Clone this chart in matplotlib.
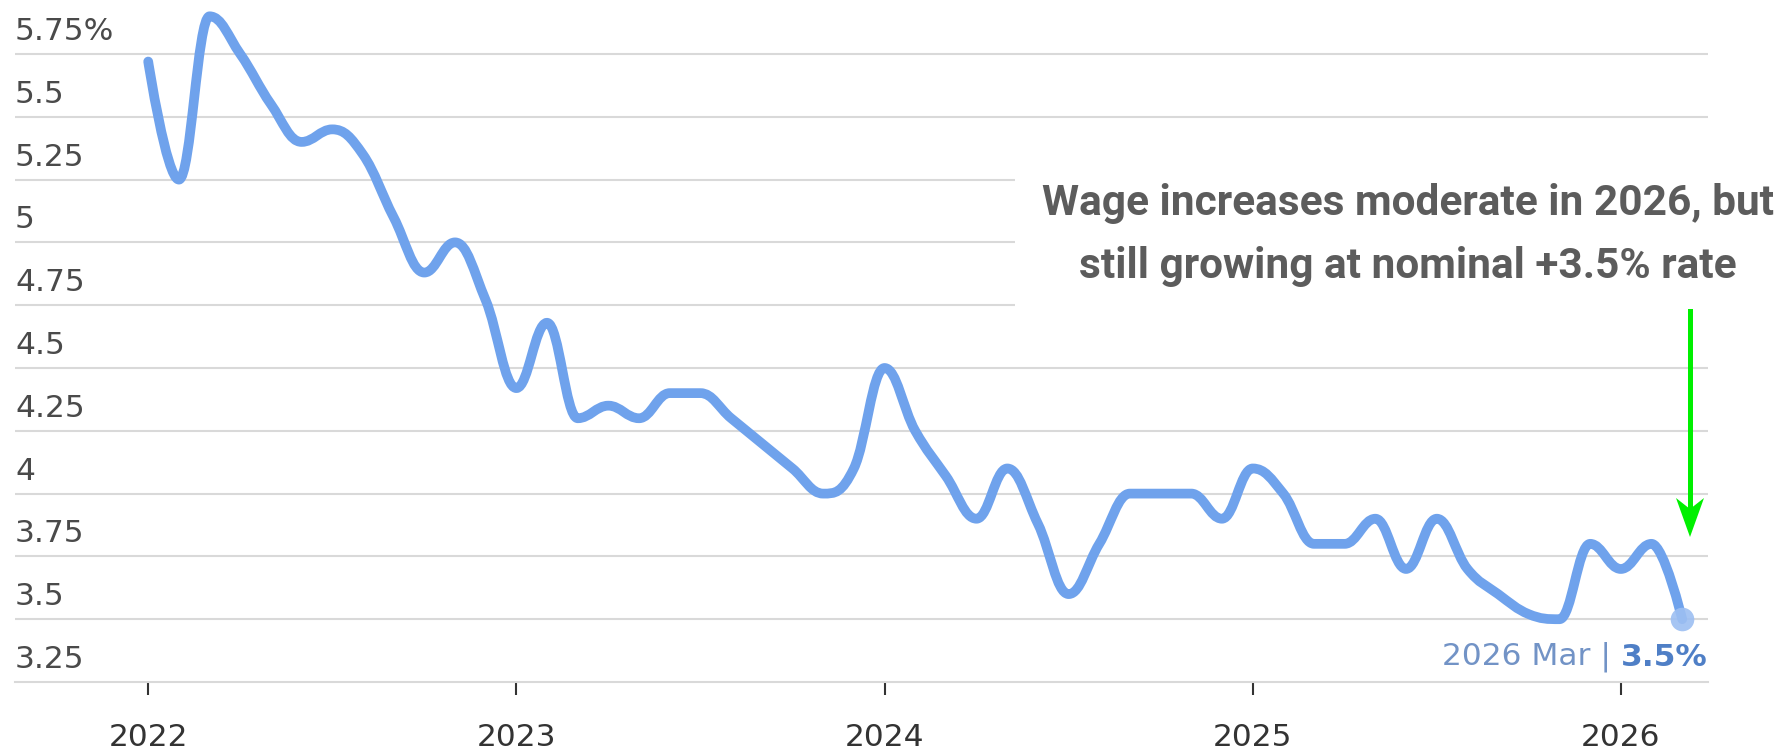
import matplotlib
matplotlib.use("Agg")
import matplotlib.pyplot as plt
import numpy as np
from matplotlib.path import Path
from matplotlib.patches import PathPatch, Rectangle, Polygon
import matplotlib.transforms as mtransforms
from matplotlib import font_manager

# ---------------- data ----------------
start_year = 2022
values = [5.72, 5.25, 5.90, 5.75, 5.55, 5.40, 5.45, 5.35, 5.10, 4.88, 5.00, 4.77,
          4.42, 4.68, 4.30, 4.35, 4.30, 4.40, 4.40, 4.30, 4.20, 4.10, 4.00, 4.10,
          4.50, 4.25, 4.07, 3.90, 4.10, 3.88, 3.60, 3.80, 4.00, 4.00, 4.00, 3.90,
          4.10, 4.00, 3.80, 3.80, 3.90, 3.70, 3.90, 3.70, 3.60, 3.52, 3.50, 3.80,
          3.70, 3.80, 3.50]
year_labels = ["2022", "2023", "2024", "2025", "2026"]
y_ticks = [3.25, 3.5, 3.75, 4.0, 4.25, 4.5, 4.75, 5.0, 5.25, 5.5, 5.75]
y_tick_labels = ["3.25", "3.5", "3.75", "4", "4.25", "4.5", "4.75", "5", "5.25", "5.5", "5.75%"]
end_label_period = "2026 Mar | "
end_label_value = "3.5%"
note_lines = ["Wage increases moderate in 2026, but",
              "still growing at nominal +3.5% rate"]

# ---------------- style ----------------
W, H = 1788, 752
LINE_C = "#6fa2ec"
GRID_C = "#d9d9d9"
avail = {f.name for f in font_manager.fontManager.ttflist}
note_font = next((f for f in ["Roboto", "Lato", "Liberation Sans"] if f in avail), "DejaVu Sans")

fig = plt.figure(figsize=(W / 100, H / 100), dpi=100)
fig.patch.set_facecolor("white")

ax_left, ax_right, ax_bottom_px = 15, 1708, 682
ax = fig.add_axes([ax_left / W, (H - ax_bottom_px) / H, (ax_right - ax_left) / W, ax_bottom_px / H])
ax.set_facecolor("white")

x = np.arange(len(values), dtype=float)
y = np.array(values, dtype=float)

px_per_month = 30.68
x0_px = 148.2
ax.set_xlim((ax_left - x0_px) / px_per_month, (ax_right - x0_px) / px_per_month)
px_per_unit = 251.2
ax.set_ylim(3.25, 3.25 + ax_bottom_px / px_per_unit)

for s in ["top", "right", "left"]:
    ax.spines[s].set_visible(False)
ax.spines["bottom"].set_color(GRID_C)
ax.spines["bottom"].set_linewidth(1.5)

# gridlines
for v in y_ticks[1:]:
    ax.axhline(v, color=GRID_C, lw=1.5, zorder=1)

# y labels, placed above gridlines
ax.set_yticks([])
off = mtransforms.ScaledTranslation(0, 14 / 100, fig.dpi_scale_trans)
ytrans = mtransforms.blended_transform_factory(ax.transAxes, ax.transData) + off
for v, lab in zip(y_ticks, y_tick_labels):
    ax.text(0.0, v, lab, transform=ytrans, ha="left", va="baseline",
            fontsize=22.5, color="#4a4a4a", family="DejaVu Sans", zorder=2)

# x ticks
year_pos = [12 * i for i in range(len(year_labels))]
ax.set_xticks(year_pos)
ax.set_xticklabels(year_labels, fontsize=22.5, color="#333333", family="DejaVu Sans")
ax.tick_params(axis="x", length=9.5, width=1.5, color="#333333", pad=20)


# ---------------- spline (Highcharts-style bezier control points) ----------------
def spline_path(xs, ys, smoothing=1.5):
    n = len(xs)
    denom = smoothing + 1
    lc = [None] * n
    rc = [None] * n
    for i in range(1, n - 1):
        px, py = xs[i], ys[i]
        lx, ly = xs[i - 1], ys[i - 1]
        nx, ny = xs[i + 1], ys[i + 1]
        lcx = (smoothing * px + lx) / denom
        lcy = (smoothing * py + ly) / denom
        rcx = (smoothing * px + nx) / denom
        rcy = (smoothing * py + ny) / denom
        if rcx != lcx:
            corr = ((rcy - lcy) * (rcx - px)) / (rcx - lcx) + py - rcy
            lcy += corr
            rcy += corr
        if lcy > ly and lcy > py:
            lcy = max(ly, py); rcy = 2 * py - lcy
        elif lcy < ly and lcy < py:
            lcy = min(ly, py); rcy = 2 * py - lcy
        if rcy > ny and rcy > py:
            rcy = max(ny, py); lcy = 2 * py - rcy
        elif rcy < ny and rcy < py:
            rcy = min(ny, py); lcy = 2 * py - rcy
        lc[i] = (lcx, lcy)
        rc[i] = (rcx, rcy)
    verts = [(xs[0], ys[0])]
    codes = [Path.MOVETO]
    for i in range(1, n):
        c1 = rc[i - 1] if rc[i - 1] is not None else (xs[i - 1], ys[i - 1])
        c2 = lc[i] if lc[i] is not None else (xs[i], ys[i])
        verts += [c1, c2, (xs[i], ys[i])]
        codes += [Path.CURVE4] * 3
    return Path(verts, codes)


patch = PathPatch(spline_path(x, y), facecolor="none", edgecolor=LINE_C, lw=7.0,
                  capstyle="round", joinstyle="round", zorder=3, clip_on=False)
ax.add_patch(patch)

# end marker
ax.plot(x[-1:], y[-1:], "o", ms=17, color="#9dbff2", alpha=0.9, mec="none", zorder=4, clip_on=False)

# end label
fig.canvas.draw()
r = fig.canvas.get_renderer()
lab_off = mtransforms.ScaledTranslation(0, -47 / 100, fig.dpi_scale_trans)
t_val = ax.text(1.0, y[-1], end_label_value,
                transform=mtransforms.blended_transform_factory(ax.transAxes, ax.transData) + lab_off,
                ha="right", va="baseline", fontsize=22.5, fontweight="bold",
                color="#4f7fc6", family="DejaVu Sans", zorder=5)
t_per = ax.annotate(end_label_period, xy=(0, 0), xycoords=t_val, ha="right", va="bottom",
                    fontsize=22.5, color="#7293c6", family="DejaVu Sans", zorder=5)

# white box behind annotation note
fig.add_artist(Rectangle((1015 / W, 1 - 316 / H), (W - 1015) / W, (316 - 160) / H,
                         transform=fig.transFigure, facecolor="white", edgecolor="none", zorder=5))
fig.text(1408 / W, 1 - 215 / H, note_lines[0], ha="center", va="baseline", fontsize=30.5,
         fontweight="bold", color="#5c5c5c", family=note_font, zorder=6)
fig.text(1408 / W, 1 - 278 / H, note_lines[1], ha="center", va="baseline", fontsize=30.5,
         fontweight="bold", color="#5c5c5c", family=note_font, zorder=6)

# green arrow (shaft + notched head), in figure pixels
GREEN = "#00f000"
ax_x, top_y, tip_y = 1690, 311, 537
fig_px = mtransforms.Affine2D().scale(1, -1).translate(0, H)
fig.add_artist(matplotlib.lines.Line2D([ax_x, ax_x], [top_y, tip_y - 20], color=GREEN, lw=3.6,
                                       transform=fig_px, zorder=6))
fig.add_artist(Polygon([(ax_x, tip_y), (ax_x - 14, tip_y - 39), (ax_x, tip_y - 28), (ax_x + 14, tip_y - 39)],
                       closed=True, facecolor=GREEN, edgecolor="none", transform=fig_px, zorder=6))

fig.savefig("out.png", dpi=100, facecolor="white")
